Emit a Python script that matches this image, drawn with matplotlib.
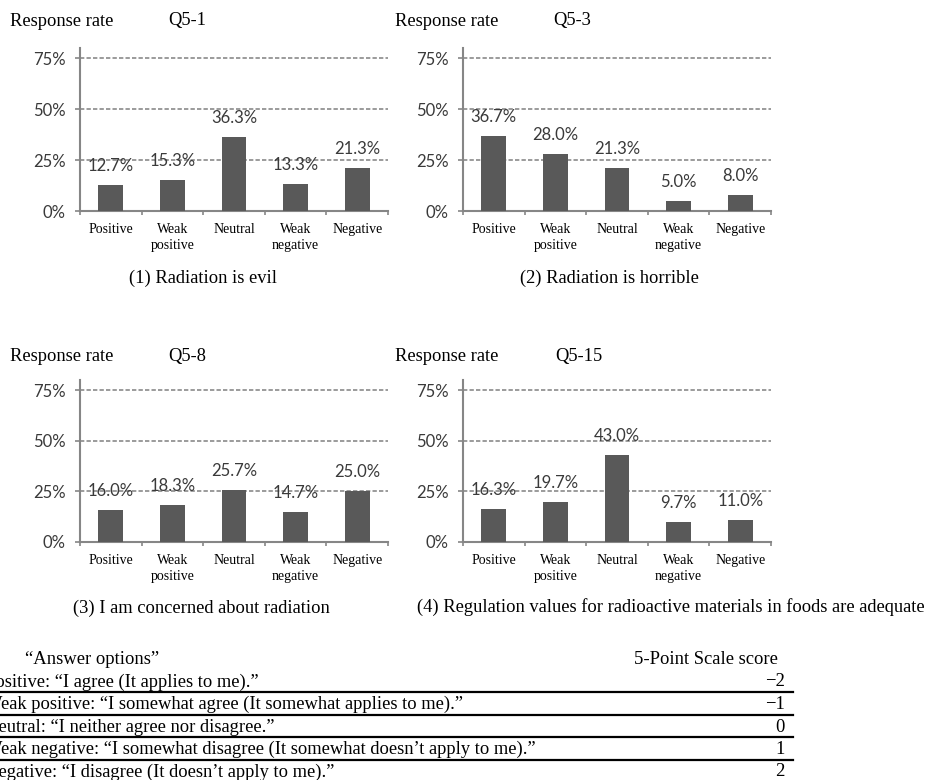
import numpy as np
import matplotlib
matplotlib.use("Agg")
import matplotlib.pyplot as plt
from matplotlib.lines import Line2D

FIG_W = 928
FIG_H = 780

CATEGORIES = ["Positive", "Weak\npositive", "Neutral", "Weak\nnegative", "Negative"]
Q5_1 = [12.7, 15.3, 36.3, 13.3, 21.3]
Q5_3 = [36.7, 28.0, 21.3, 5.0, 8.0]
Q5_8 = [16.0, 18.3, 25.7, 14.7, 25.0]
Q5_15 = [16.3, 19.7, 43.0, 9.7, 11.0]
QUESTION_IDS = ["Q5-1", "Q5-3", "Q5-8", "Q5-15"]
CAPTIONS = [
    "(1) Radiation is evil",
    "(2) Radiation is horrible",
    "(3) I am concerned about radiation",
    "(4) Regulation values for radioactive materials in foods are adequate",
]
Y_TICKS = [0, 25, 50, 75]
Y_TICK_LABELS = ["0%", "25%", "50%", "75%"]

ANSWER_OPTIONS = [
    "Positive: \u201cI agree (It applies to me).\u201d",
    "Weak positive: \u201cI somewhat agree (It somewhat applies to me).\u201d",
    "Neutral: \u201cI neither agree nor disagree.\u201d",
    "Weak negative: \u201cI somewhat disagree (It somewhat doesn\u2019t apply to me).\u201d",
    "Negative: \u201cI disagree (It doesn\u2019t apply to me).\u201d",
]
SCORES = ["\u22122", "\u22121", "0", "1", "2"]

SERIF = "Liberation Serif"
SANS = "Lato"
BAR_COLOR = "#595959"
GRID_COLOR = "#8a8a8a"
AXIS_COLOR = "#868686"
LABEL_COLOR = "#3a3a3a"


def fx(px):
    return px / FIG_W


def fy(py):
    return 1 - py / FIG_H


def add_panel(fig, left, top, right, bottom, values):
    ax = fig.add_axes([fx(left), fy(bottom), fx(right - left), (bottom - top) / FIG_H])
    x = np.arange(len(values))
    ax.bar(x, values, width=0.4, color=BAR_COLOR, zorder=3)
    ax.set_xlim(-0.5, len(values) - 0.5)
    ax.set_ylim(0, 80)

    for side in ["top", "right"]:
        ax.spines[side].set_visible(False)
    for side in ["left", "bottom"]:
        ax.spines[side].set_color(AXIS_COLOR)
        ax.spines[side].set_linewidth(1.5)

    ax.set_yticks(Y_TICKS)
    ax.set_yticklabels(Y_TICK_LABELS, fontfamily=SANS, fontsize=12, color=LABEL_COLOR)
    ax.tick_params(axis="y", length=3.6, width=1.2, color=AXIS_COLOR, pad=6.5)

    ax.set_xticks(x)
    ax.set_xticklabels(CATEGORIES, fontfamily=SERIF, fontsize=10, linespacing=1.3)
    ax.set_xticks(np.arange(len(values) + 1) - 0.5, minor=True)
    ax.tick_params(axis="x", which="major", length=0, pad=8.5)
    ax.tick_params(axis="x", which="minor", length=3, width=1.2, color=AXIS_COLOR)

    for yv in Y_TICKS[1:]:
        ax.axhline(yv, color=GRID_COLOR, lw=1.2, ls=(0, (2.6, 1.3)), zorder=1)

    for xi, v in zip(x, values):
        ax.annotate(f"{v:.1f}%", (xi, v), xytext=(0, 13.7), textcoords="offset points",
                    ha="center", va="center", fontfamily=SANS, fontsize=12,
                    color=LABEL_COLOR, zorder=4)
    return ax


fig = plt.figure(figsize=(FIG_W / 100, FIG_H / 100), dpi=100)

panels = [
    (80, 48, 388, 211, Q5_1, 10, 168, 21, (203.5, 278)),
    (463, 48, 771, 211, Q5_3, 395, 553, 21, (609, 278)),
    (80, 380, 388, 542, Q5_8, 10, 168, 357, (201.5, 608)),
    (463, 380, 771, 542, Q5_15, 395, 555, 357, (671, 607)),
]

for i, (l, t, r, b, vals, rx, qx, ty, cap) in enumerate(panels):
    add_panel(fig, l, t, r, b, vals)
    fig.text(fx(rx), fy(ty), "Response rate", fontfamily=SERIF, fontsize=13.3,
             ha="left", va="center")
    fig.text(fx(qx), fy(ty), QUESTION_IDS[i], fontfamily=SERIF, fontsize=13.3,
             ha="left", va="center")
    fig.text(fx(cap[0]), fy(cap[1]), CAPTIONS[i], fontfamily=SERIF, fontsize=13.3,
             ha="center", va="center")

# answer options table (left edge cropped as in the source figure)
fig.text(fx(25), fy(660), "\u201cAnswer options\u201d", fontfamily=SERIF, fontsize=13.4,
         ha="left", va="center")
fig.text(fx(778), fy(660), "5-Point Scale score", fontfamily=SERIF, fontsize=13.4,
         ha="right", va="center")

for i, (option, score) in enumerate(zip(ANSWER_OPTIONS, SCORES)):
    row_y = 682 + 22.5 * i
    fig.text(fx(-15), fy(row_y), option, fontfamily=SERIF, fontsize=13.3,
             ha="left", va="center")
    fig.text(fx(785), fy(row_y), score, fontfamily=SERIF, fontsize=13.4,
             ha="right", va="center")
    if i < len(ANSWER_OPTIONS) - 1:
        line_y = fy(row_y + 10.3)
        fig.add_artist(Line2D([fx(0), fx(793)], [line_y, line_y], color="black",
                              lw=1.6, transform=fig.transFigure))

fig.savefig("out.png", dpi=100)
